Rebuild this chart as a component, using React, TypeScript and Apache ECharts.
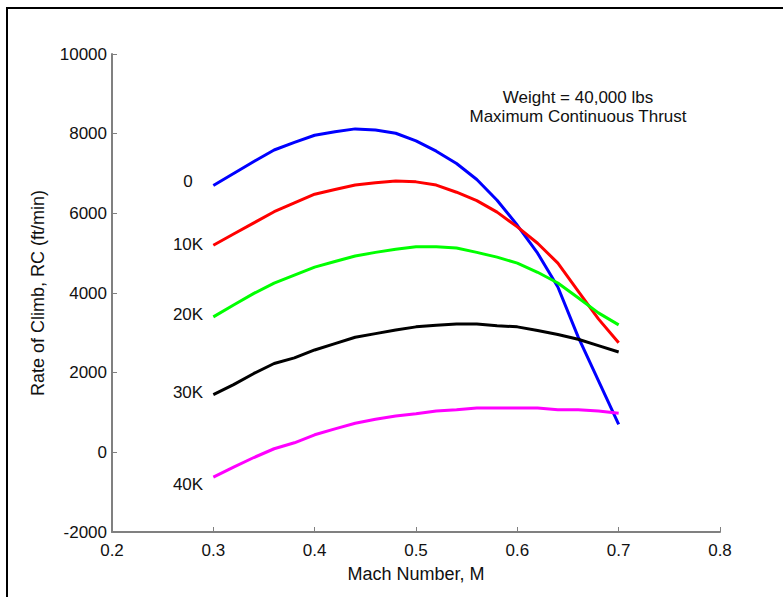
import React, { useEffect, useRef } from "react";
import * as echarts from "echarts";

const mach = [0.3, 0.32, 0.34, 0.36, 0.38, 0.4, 0.42, 0.44, 0.46, 0.48, 0.5, 0.52, 0.54, 0.56, 0.58, 0.6, 0.62, 0.64, 0.66, 0.68, 0.7];
const rcSeaLevel = [6700, 7000, 7300, 7590, 7780, 7960, 8050, 8120, 8090, 8010, 7820, 7560, 7250, 6850, 6330, 5700, 5000, 4150, 2900, 1800, 700];
const rc10K = [5200, 5480, 5760, 6040, 6260, 6480, 6600, 6710, 6770, 6810, 6790, 6710, 6530, 6320, 6030, 5660, 5250, 4750, 4050, 3350, 2750];
const rc20K = [3400, 3700, 3990, 4250, 4450, 4650, 4790, 4930, 5020, 5100, 5160, 5160, 5130, 5020, 4900, 4750, 4520, 4250, 3880, 3500, 3200];
const rc30K = [1450, 1700, 1980, 2230, 2370, 2570, 2730, 2890, 2980, 3070, 3150, 3190, 3220, 3220, 3180, 3150, 3060, 2960, 2840, 2680, 2520];
const rc40K = [-620, -370, -130, 90, 240, 440, 590, 730, 830, 910, 970, 1040, 1070, 1110, 1110, 1110, 1110, 1070, 1070, 1040, 980];

const altitudeLabels = ["0", "10K", "20K", "30K", "40K"];
const seriesColors = ["#0000ff", "#ff0000", "#00ff00", "#000000", "#ff00ff"];
const seriesValues = [rcSeaLevel, rc10K, rc20K, rc30K, rc40K];
const labelY = [181, 244, 314, 392, 484];

const annotation1 = "Weight = 40,000 lbs";
const annotation2 = "Maximum Continuous Thrust";
const xName = "Mach Number, M";
const yName = "Rate of Climb, RC (ft/min)";

const FONT = "Liberation Sans";

export default function App() {
  const ref = useRef<HTMLDivElement>(null);
  useEffect(() => {
    if (!ref.current) return;
    const chart = echarts.init(ref.current, null, { renderer: "svg" });
    const series = seriesValues.map((vals, i) => ({
      type: "line",
      name: altitudeLabels[i],
      data: mach.map((m, j) => [m, vals[j]]),
      showSymbol: false,
      symbol: "none",
      lineStyle: { color: seriesColors[i], width: 3 },
      itemStyle: { color: seriesColors[i] },
      z: 2 + i,
    }));
    const graphic: any[] = [
      {
        type: "rect",
        shape: { x: 7, y: 8, width: 800, height: 620 },
        style: { fill: "none", stroke: "#000", lineWidth: 2 },
        silent: true,
      },
      {
        type: "text",
        x: 578,
        y: 97,
        style: { text: annotation1, font: `17px "${FONT}"`, fill: "#111", align: "center", verticalAlign: "middle" },
      },
      {
        type: "text",
        x: 578,
        y: 116,
        style: { text: annotation2, font: `17px "${FONT}"`, fill: "#111", align: "center", verticalAlign: "middle" },
      },
    ];
    altitudeLabels.forEach((t, i) => {
      graphic.push({
        type: "text",
        x: 188,
        y: labelY[i],
        style: { text: t, font: `17px "${FONT}"`, fill: "#111", align: "center", verticalAlign: "middle" },
      });
    });
    chart.setOption({
      animation: false,
      backgroundColor: "#fff",
      grid: { left: 112, right: 63, top: 54, bottom: 65 },
      xAxis: {
        type: "value",
        min: 0.2,
        max: 0.8,
        interval: 0.1,
        name: xName,
        nameLocation: "middle",
        nameGap: 33,
        nameTextStyle: { fontFamily: FONT, fontSize: 18, color: "#111" },
        axisLine: { show: true, onZero: false, lineStyle: { color: "#808080", width: 2 } },
        axisTick: { show: true, inside: true, length: 5, lineStyle: { color: "#808080", width: 1 } },
        axisLabel: {
          fontFamily: FONT,
          fontSize: 17,
          color: "#111",
          margin: 10,
          formatter: (v: number) => v.toFixed(1),
        },
        splitLine: { show: false },
      },
      yAxis: {
        type: "value",
        min: -2000,
        max: 10000,
        interval: 2000,
        name: yName,
        nameLocation: "middle",
        nameGap: 65,
        nameTextStyle: { fontFamily: FONT, fontSize: 18, color: "#111" },
        axisLine: { show: true, onZero: false, lineStyle: { color: "#808080", width: 2 } },
        axisTick: { show: true, inside: true, length: 5, lineStyle: { color: "#808080", width: 1 } },
        axisLabel: { fontFamily: FONT, fontSize: 17, color: "#111", margin: 5, formatter: (v: number) => String(v) },
        splitLine: { show: false },
      },
      series,
      graphic,
    });
    return () => chart.dispose();
  }, []);
  return <div ref={ref} style={{ position: "absolute", left: 0, top: 0, width: 783, height: 597 }} />;
}
